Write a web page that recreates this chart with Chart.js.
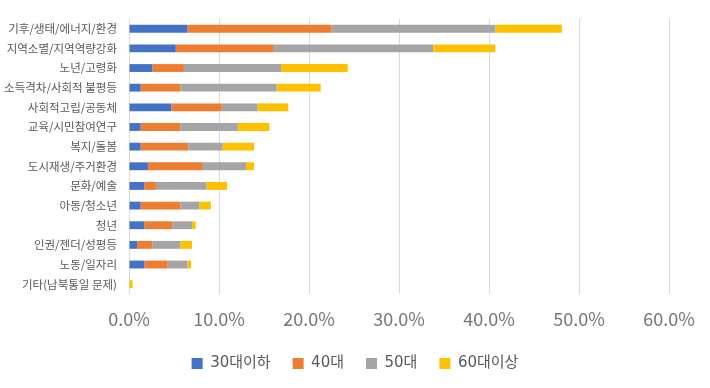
<!DOCTYPE html>
<html>
<head>
<meta charset="utf-8">
<script src="https://cdn.jsdelivr.net/npm/chart.js@4/dist/chart.umd.min.js"></script>
<style>
  html, body { margin: 0; padding: 0; background: #fff; }
  #wrap { width: 710px; height: 388px; }
</style>
</head>
<body>
<div id="wrap"><canvas id="ageChart"></canvas></div>
<script>
// 분야별 연령대 비율 (%)
var categories = [
    '기후/생태/에너지/환경', '지역소멸/지역역량강화', '노년/고령화', '소득격차/사회적 불평등',
    '사회적고립/공동체', '교육/시민참여연구', '복지/돌봄', '도시재생/주거환경',
    '문화/예술', '아동/청소년', '청년', '인권/젠더/성평등', '노동/일자리', '기타(남북통일 문제)'
];
var under30 = [6.5, 5.2, 2.6, 1.3, 4.7, 1.3, 1.3, 2.1, 1.7, 1.3, 1.7, 0.9, 1.7, 0];
var age40 = [16.0, 10.8, 3.5, 4.4, 5.6, 4.4, 5.3, 6.1, 1.3, 4.4, 3.1, 1.7, 2.6, 0];
var age50 = [18.2, 17.8, 10.8, 10.7, 4.0, 6.4, 3.8, 4.8, 5.6, 2.1, 2.2, 3.1, 2.2, 0];
var over60 = [7.4, 6.9, 7.4, 4.9, 3.4, 3.5, 3.5, 0.9, 2.3, 1.3, 0.4, 1.3, 0.4, 0.4];
var seriesNames = ['30대이하', '40대', '50대', '60대이상'];
var seriesColors = ['#4472C4', '#ED7D31', '#A5A5A5', '#FFC000'];

var seriesValues = [under30, age40, age50, over60];
var datasets = seriesValues.map(function (vals, i) {
    return {
        label: seriesNames[i],
        data: vals,
        backgroundColor: seriesColors[i],
        borderWidth: 0,
        categoryPercentage: 0.8,
        barPercentage: 0.5
    };
});

var ctx = document.getElementById('ageChart').getContext('2d');
var ageChart = new Chart(ctx, {
    type: 'bar',
    data: { labels: categories, datasets: datasets },
    options: {
        indexAxis: 'y',
        responsive: true,
        maintainAspectRatio: false,
        animation: false,
        layout: { padding: { top: 13, right: 0, bottom: 7, left: 0 } },
        scales: {
            x: {
                stacked: true,
                min: 0,
                max: 60,
                ticks: {
                    stepSize: 10,
                    padding: 14,
                    color: '#767676',
                    font: { family: "'Noto Sans CJK KR', sans-serif", size: 18 },
                    callback: function (v) { return v.toFixed(1) + '%'; }
                },
                grid: { color: '#d9d9d9', lineWidth: 1, drawTicks: false },
                border: { display: false },
                // 오른쪽 여백은 축에서만 잡아서 범례가 캔버스 가운데에 오도록
                afterFit: function (s) { s.height = 40; s.paddingRight = 41; }
            },
            y: {
                stacked: true,
                ticks: {
                    padding: 12,
                    color: '#595959',
                    font: { family: "'Noto Sans CJK KR', sans-serif", size: 11.5 }
                },
                grid: { display: false, drawTicks: false },
                border: { display: false },
                afterFit: function (s) { s.width = 129; }
            }
        },
        plugins: {
            tooltip: { enabled: false },
            legend: {
                position: 'bottom',
                labels: {
                    boxWidth: 11,
                    boxHeight: 11,
                    padding: 22,
                    color: '#595959',
                    font: { family: "'DejaVu Sans', 'Noto Sans CJK KR', sans-serif", size: 15 }
                }
            }
        }
    }
});
</script>
</body>
</html>
